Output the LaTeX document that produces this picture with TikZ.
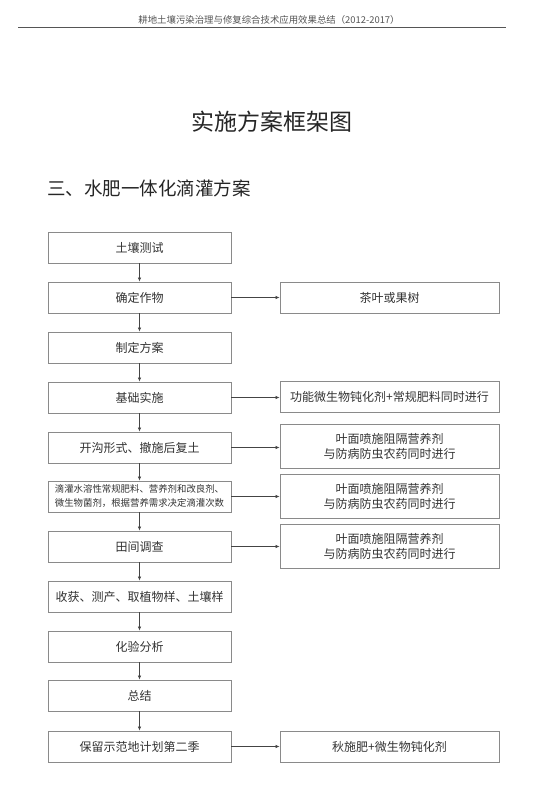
\documentclass[tikz,border=0pt]{standalone}
\usepackage{fontspec}
\setmainfont{Noto Sans CJK SC}
\usetikzlibrary{arrows.meta}
\definecolor{boxgray}{HTML}{8A8A8A}
\definecolor{txt}{HTML}{333333}
\definecolor{arrgray}{HTML}{444444}
\definecolor{hdr}{HTML}{555555}
\begin{document}
\begin{tikzpicture}[x=1pt,y=-1pt,
 lbox/.style={draw=boxgray, line width=0.8pt, minimum width=183pt, minimum height=31pt, inner sep=0pt, text=txt, font=\fontsize{12}{15}\selectfont, align=center},
 rbox/.style={lbox, minimum width=219pt},
 arr/.style={draw=arrgray, line width=0.7pt, -{Latex[length=4pt,width=3.5pt]}}]
\useasboundingbox[fill=white] (0,0) rectangle (545,805);
% header
\node[text=hdr, font=\fontsize{9.4}{11}\selectfont] (hdr) at (269,20) {耕地土壤污染治理与修复综合技术应用效果总结（2012-2017）};
\coordinate (hl) at (18,27);
\coordinate (hr) at (506,27);
\draw[draw=hdr, line width=0.7pt] (hl) -- (hr);
% titles
\node[text=black!85, font=\fontsize{23}{26}\selectfont] (title) at (272,122) {实施方案框架图};
\node[text=black!85, font=\fontsize{18.5}{22}\selectfont, anchor=west, inner sep=0pt] (sub) at (47,188) {三、水肥一体化滴灌方案};
% left column
\node[lbox] (L1) at (139.5,247.5) {土壤测试};
\node[lbox] (L2) at (139.5,297.5) {确定作物};
\node[lbox] (L3) at (139.5,347.5) {制定方案};
\node[lbox] (L4) at (139.5,397.5) {基础实施};
\node[lbox] (L5) at (139.5,447.5) {开沟形式、撤施后复土};
\node[lbox, font=\fontsize{9.4}{14}\selectfont] (L6) at (139.5,496.5) {滴灌水溶性常规肥料、营养剂和改良剂、\\微生物菌剂，根据营养需求决定滴灌次数};
\node[lbox] (L7) at (139.5,546.5) {田间调查};
\node[lbox] (L8) at (139.5,596.5) {收获、测产、取植物样、土壤样};
\node[lbox] (L9) at (139.5,646.5) {化验分析};
\node[lbox] (L10) at (139.5,695.5) {总结};
\node[lbox] (L11) at (139.5,746.5) {保留示范地计划第二季};
% right column
\node[rbox] (R1) at (389.5,297.5) {茶叶或果树};
\node[rbox] (R2) at (389.5,397) {功能微生物钝化剂+常规肥料同时进行};
\node[rbox, minimum height=44pt] (R3) at (389.5,446) {叶面喷施阻隔营养剂\\与防病防虫农药同时进行};
\node[rbox, minimum height=44pt] (R4) at (389.5,496) {叶面喷施阻隔营养剂\\与防病防虫农药同时进行};
\node[rbox, minimum height=44pt] (R5) at (389.5,546) {叶面喷施阻隔营养剂\\与防病防虫农药同时进行};
\node[rbox] (R6) at (389.5,746.5) {秋施肥+微生物钝化剂};
% vertical arrows
\foreach \a/\b in {L1/L2,L2/L3,L3/L4,L4/L5,L5/L6,L6/L7,L7/L8,L8/L9,L9/L10,L10/L11}
  \draw[arr] (\a.south) -- (\b.north);
% horizontal arrows
\draw[arr] (L2.east) -- (L2.east -| R1.west);
\draw[arr] (L4.east) -- (L4.east -| R2.west);
\draw[arr] (L5.east) -- (L5.east -| R3.west);
\draw[arr] (L6.east) -- (L6.east -| R4.west);
\draw[arr] (L7.east) -- (L7.east -| R5.west);
\draw[arr] (L11.east) -- (L11.east -| R6.west);
\end{tikzpicture}
\end{document}
